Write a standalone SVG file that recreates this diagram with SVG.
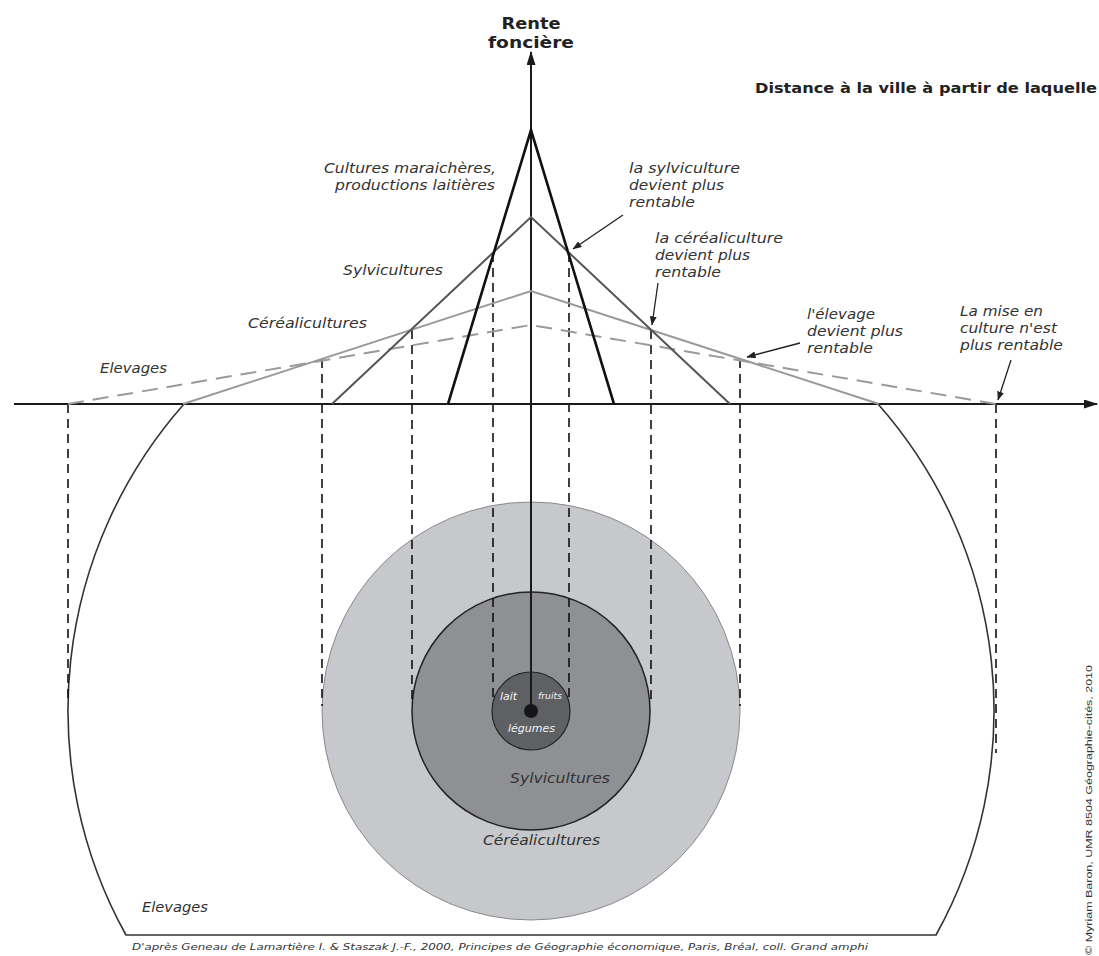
<svg xmlns="http://www.w3.org/2000/svg" width="1099" height="956" viewBox="0 0 1099 956">
<defs>
<style>
.ax{stroke:#1a1a1a;stroke-width:2;fill:none}
.proj{stroke:#111;stroke-width:1.6;stroke-dasharray:9 6;fill:none}
.rent{fill:none;stroke-linejoin:miter}
.lbl{font-family:"DejaVu Sans","Verdana",sans-serif;font-style:italic;font-size:14px;fill:#333}
.ttl{font-family:"DejaVu Sans","Verdana",sans-serif;font-weight:bold;fill:#222}
.inner{font-family:"DejaVu Sans",sans-serif;font-style:italic;fill:#f2f2f2}
.note{stroke:#222;stroke-width:1.3;fill:none}
</style>
<marker id="axArrow" markerUnits="userSpaceOnUse" markerWidth="14" markerHeight="10" refX="13" refY="4.5" orient="auto">
<path d="M0,0 L14,4.5 L0,9 z" fill="#1a1a1a"/>
</marker>
<marker id="noteArrow" markerUnits="userSpaceOnUse" markerWidth="9" markerHeight="7" refX="8.5" refY="3.5" orient="auto">
<path d="M0,0 L9,3.5 L0,7 z" fill="#222"/>
</marker>
</defs>
<rect width="1099" height="956" fill="#fff"/>

<g id="zone-elevages">
<path d="M184,404 A463,463 0 0 0 126,935 L936,935 A463,463 0 0 0 878,404" fill="#fff" stroke="#333" stroke-width="1.6"/>
<text class="lbl" x="142" y="912" textLength="66" lengthAdjust="spacingAndGlyphs">Elevages</text>
</g>
<g id="zone-cerealicultures">
<circle cx="531" cy="711" r="209" fill="#c7c8cb" stroke="#8a8a8a" stroke-width="1"/>
<text class="lbl" x="483" y="845" textLength="117" lengthAdjust="spacingAndGlyphs">Céréalicultures</text>
</g>
<g id="zone-sylvicultures">
<circle cx="531" cy="711" r="119" fill="#8f9094" stroke="#222" stroke-width="1.5"/>
<text class="lbl" x="510" y="783" textLength="100" lengthAdjust="spacingAndGlyphs">Sylvicultures</text>
</g>

<g id="projections">
<line class="proj" x1="68" y1="404" x2="68" y2="704"/>
<line class="proj" x1="322" y1="359" x2="322" y2="706"/>
<line class="proj" x1="412" y1="330" x2="412" y2="700"/>
<line class="proj" x1="493" y1="253" x2="493" y2="697"/>
<line class="proj" x1="569" y1="253" x2="569" y2="697"/>
<line class="proj" x1="651" y1="330" x2="651" y2="700"/>
<line class="proj" x1="740" y1="359" x2="740" y2="706"/>
<line class="proj" x1="996" y1="404" x2="996" y2="753"/>
</g>

<g id="zone-centre">
<circle cx="531" cy="711" r="39" fill="#5f6064" stroke="#222" stroke-width="1.2"/>
<text class="inner" x="500" y="700" font-size="10" textLength="17" lengthAdjust="spacingAndGlyphs">lait</text>
<text class="inner" x="538" y="699" font-size="8" textLength="24" lengthAdjust="spacingAndGlyphs">fruits</text>
<text class="inner" x="508" y="732" font-size="10" textLength="47" lengthAdjust="spacingAndGlyphs">légumes</text>
</g>

<g id="axes">
<line class="ax" x1="14" y1="404" x2="1097" y2="404" marker-end="url(#axArrow)"/>
<line class="ax" x1="531" y1="711" x2="531" y2="52" marker-end="url(#axArrow)"/>
<circle cx="531" cy="711" r="7" fill="#151515"/>
<text class="ttl" x="531" y="29" font-size="16" text-anchor="middle" textLength="59" lengthAdjust="spacingAndGlyphs">Rente</text>
<text class="ttl" x="531" y="48" font-size="16" text-anchor="middle" textLength="86" lengthAdjust="spacingAndGlyphs">foncière</text>
<text class="ttl" x="755" y="93" font-size="14" textLength="342" lengthAdjust="spacingAndGlyphs">Distance à la ville à partir de laquelle</text>
</g>

<g id="courbe-elevages">
<polyline class="rent" points="68,404 531,325 996,404" stroke="#9a9a9a" stroke-width="2" stroke-dasharray="16 9"/>
<text class="lbl" x="100" y="373" textLength="67" lengthAdjust="spacingAndGlyphs">Elevages</text>
</g>
<g id="courbe-cerealicultures">
<polyline class="rent" points="183,404 531,291 879,404" stroke="#9a9a9a" stroke-width="2"/>
<text class="lbl" x="248" y="328" textLength="119" lengthAdjust="spacingAndGlyphs">Céréalicultures</text>
</g>
<g id="courbe-sylvicultures">
<polyline class="rent" points="332,404 531,217 730,404" stroke="#555" stroke-width="2"/>
<text class="lbl" x="343" y="275" textLength="100" lengthAdjust="spacingAndGlyphs">Sylvicultures</text>
</g>
<g id="courbe-maraichage">
<polyline class="rent" points="448,404 531,130 614,404" stroke="#111" stroke-width="2.6"/>
<text class="lbl" x="496" y="173" text-anchor="end" textLength="172" lengthAdjust="spacingAndGlyphs">Cultures maraichères,</text>
<text class="lbl" x="495" y="190" text-anchor="end" textLength="160" lengthAdjust="spacingAndGlyphs">productions laitières</text>
</g>

<g id="note-sylviculture">
<text class="lbl" x="629" y="173" textLength="111" lengthAdjust="spacingAndGlyphs">la sylviculture</text>
<text class="lbl" x="629" y="190" textLength="95" lengthAdjust="spacingAndGlyphs">devient plus</text>
<text class="lbl" x="629" y="207" textLength="66" lengthAdjust="spacingAndGlyphs">rentable</text>
</g>
<g id="note-cerealiculture">
<text class="lbl" x="655" y="243" textLength="128" lengthAdjust="spacingAndGlyphs">la céréaliculture</text>
<text class="lbl" x="655" y="260" textLength="95" lengthAdjust="spacingAndGlyphs">devient plus</text>
<text class="lbl" x="655" y="277" textLength="66" lengthAdjust="spacingAndGlyphs">rentable</text>
</g>
<g id="note-elevage">
<text class="lbl" x="807" y="319" textLength="68" lengthAdjust="spacingAndGlyphs">l'élevage</text>
<text class="lbl" x="807" y="336" textLength="96" lengthAdjust="spacingAndGlyphs">devient plus</text>
<text class="lbl" x="807" y="353" textLength="66" lengthAdjust="spacingAndGlyphs">rentable</text>
</g>
<g id="note-limite">
<text class="lbl" x="960" y="316" textLength="83" lengthAdjust="spacingAndGlyphs">La mise en</text>
<text class="lbl" x="960" y="333" textLength="97" lengthAdjust="spacingAndGlyphs">culture n'est</text>
<text class="lbl" x="960" y="350" textLength="103" lengthAdjust="spacingAndGlyphs">plus rentable</text>
</g>

<g id="connectors">
<line class="note" x1="623" y1="215" x2="573" y2="249" marker-end="url(#noteArrow)"/>
<line class="note" x1="658" y1="283" x2="652" y2="325" marker-end="url(#noteArrow)"/>
<line class="note" x1="800" y1="343" x2="747" y2="357" marker-end="url(#noteArrow)"/>
<line class="note" x1="1011" y1="360" x2="998" y2="400" marker-end="url(#noteArrow)"/>
</g>

<g id="sources">
<text x="132" y="950" font-family="DejaVu Sans, sans-serif" font-style="italic" font-size="9.5" fill="#333" textLength="736" lengthAdjust="spacingAndGlyphs">D'après Geneau de Lamartière I. &amp; Staszak J.-F., 2000, Principes de Géographie économique, Paris, Bréal, coll. Grand amphi</text>
<text transform="translate(1092,955) rotate(-90)" x="0" y="0" font-family="Liberation Sans, Arial, sans-serif" font-size="9" fill="#333" textLength="290" lengthAdjust="spacingAndGlyphs">© Myriam Baron, UMR 8504 Géographie-cités, 2010</text>
</g>
</svg>
